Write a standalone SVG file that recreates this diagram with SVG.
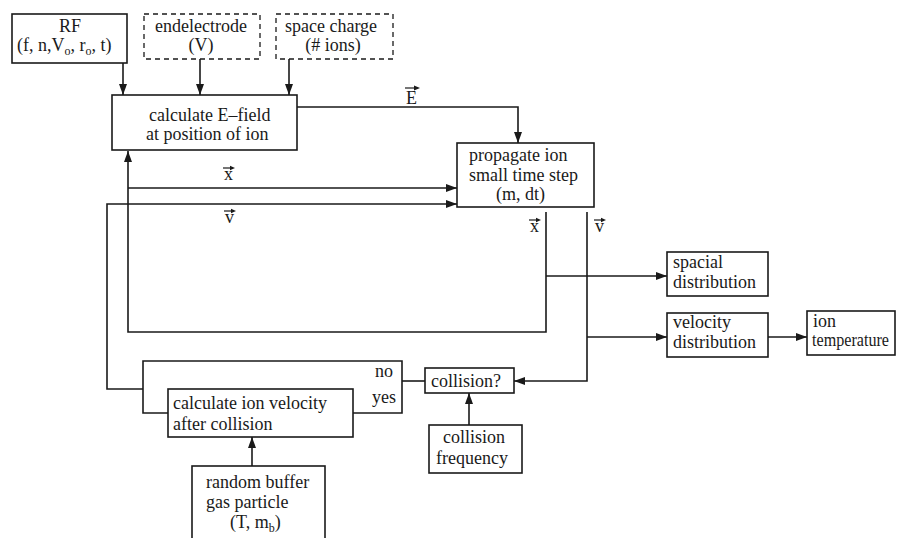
<svg xmlns="http://www.w3.org/2000/svg" width="897" height="538" viewBox="0 0 897 538">
<defs>
<marker id="ah" markerUnits="userSpaceOnUse" markerWidth="12" markerHeight="8" refX="11" refY="4" orient="auto">
<path d="M0,0 L11,4 L0,8 z" fill="#1a1a1a"/>
</marker>
<style>
rect{fill:#fff;stroke:#1a1a1a;stroke-width:1.6}
rect.d{stroke-dasharray:5 4;stroke-width:1.3}
text{font-family:"Liberation Serif","Times New Roman",serif;font-size:18px;fill:#1a1a1a}
.c line,.c path{fill:none;stroke:#1a1a1a;stroke-width:1.6}
.a{marker-end:url(#ah)}
.vec{fill:none;stroke:#1a1a1a;stroke-width:1.2}
.vh{fill:#1a1a1a}
</style>
</defs>
<rect width="897" height="538" fill="#fff" style="stroke:none"/>

<g id="connectors" class="c">
<line class="a" x1="123" y1="63" x2="123" y2="95"/>
<line class="a" x1="200" y1="59" x2="200" y2="95"/>
<line class="a" x1="289" y1="59" x2="289" y2="95"/>
<path class="a" d="M297,107 H518 V143"/>
<path class="a" d="M546,212 V332 H128 V151"/>
<line class="a" x1="128" y1="188" x2="457" y2="188"/>
<line class="a" x1="546" y1="276" x2="667" y2="276"/>
<path class="a" d="M587,212 V381 H514"/>
<line class="a" x1="587" y1="337" x2="667" y2="337"/>
<line class="a" x1="768" y1="337" x2="807" y2="337"/>
<line x1="425" y1="381" x2="402" y2="381"/>
<path d="M168,413 H143 V361 H402 V413 H353"/>
<path class="a" d="M143,389 H107 V204 H457"/>
<line class="a" x1="469" y1="425" x2="469" y2="393"/>
<line class="a" x1="252" y1="466" x2="252" y2="437"/>
</g>

<g id="labels">
<text x="406" y="104">E</text>
<path class="vec" d="M405,88 H417"/><path class="vh" d="M420,88 L414,85.5 L414,90.5 z"/>
<text x="224" y="180">x</text>
<path class="vec" d="M223,168 H232"/><path class="vh" d="M235,168 L230,165.8 L230,170.2 z"/>
<text x="225" y="223">v</text>
<path class="vec" d="M224,211 H233"/><path class="vh" d="M236,211 L231,208.8 L231,213.2 z"/>
<text x="530" y="232">x</text>
<path class="vec" d="M529,220 H538"/><path class="vh" d="M541,220 L536,217.8 L536,222.2 z"/>
<text x="595" y="232">v</text>
<path class="vec" d="M594,220 H603"/><path class="vh" d="M606,220 L601,217.8 L601,222.2 z"/>
<text x="375" y="377">no</text>
<text x="372" y="403">yes</text>
</g>

<g id="rf">
<rect x="12" y="14" width="115" height="49"/>
<text x="70" y="32" text-anchor="middle">RF</text>
<text x="17" y="51">(f, n,V<tspan font-size="12" dy="4">o</tspan><tspan dy="-4">, r</tspan><tspan font-size="12" dy="4">o</tspan><tspan dy="-4">, t)</tspan></text>
</g>
<g id="endelectrode">
<rect class="d" x="144" y="14" width="116" height="45"/>
<text x="201" y="32" text-anchor="middle">endelectrode</text>
<text x="201" y="51" text-anchor="middle">(V)</text>
</g>
<g id="spacecharge">
<rect class="d" x="276" y="14" width="117" height="45"/>
<text x="331" y="32" text-anchor="middle">space charge</text>
<text x="333" y="51" text-anchor="middle">(# ions)</text>
</g>
<g id="efield">
<rect x="112" y="95" width="185" height="55"/>
<text x="149" y="121">calculate E–field</text>
<text x="146" y="140">at position of ion</text>
</g>
<g id="propagate">
<rect x="457" y="143" width="137" height="64"/>
<text x="469" y="161">propagate ion</text>
<text x="469" y="181">small time step</text>
<text x="496" y="200">(m, dt)</text>
</g>
<g id="spacial">
<rect x="667" y="252" width="101" height="44"/>
<text x="673" y="268">spacial</text>
<text x="673" y="288">distribution</text>
</g>
<g id="velocity">
<rect x="667" y="313" width="101" height="44"/>
<text x="673" y="328">velocity</text>
<text x="673" y="348">distribution</text>
</g>
<g id="iontemp">
<rect x="807" y="311" width="88" height="44"/>
<text x="813" y="327" font-size="16.5">ion</text>
<text x="812" y="346" font-size="16.5" textLength="77" lengthAdjust="spacingAndGlyphs">temperature</text>
</g>
<g id="collision">
<rect x="425" y="368" width="89" height="25"/>
<text x="431" y="387">collision?</text>
</g>
<g id="collfreq">
<rect x="429" y="425" width="93" height="48"/>
<text x="443" y="443">collision</text>
<text x="436" y="464">frequency</text>
</g>
<g id="ionvelocity">
<rect x="168" y="389" width="185" height="48"/>
<text x="173" y="409">calculate ion velocity</text>
<text x="173" y="430">after collision</text>
</g>
<g id="buffer">
<rect x="192" y="466" width="133" height="80"/>
<text x="206" y="488">random buffer</text>
<text x="206" y="508">gas particle</text>
<text x="230" y="528">(T, m<tspan font-size="12" dy="4">b</tspan><tspan dy="-4">)</tspan></text>
</g>
</svg>
